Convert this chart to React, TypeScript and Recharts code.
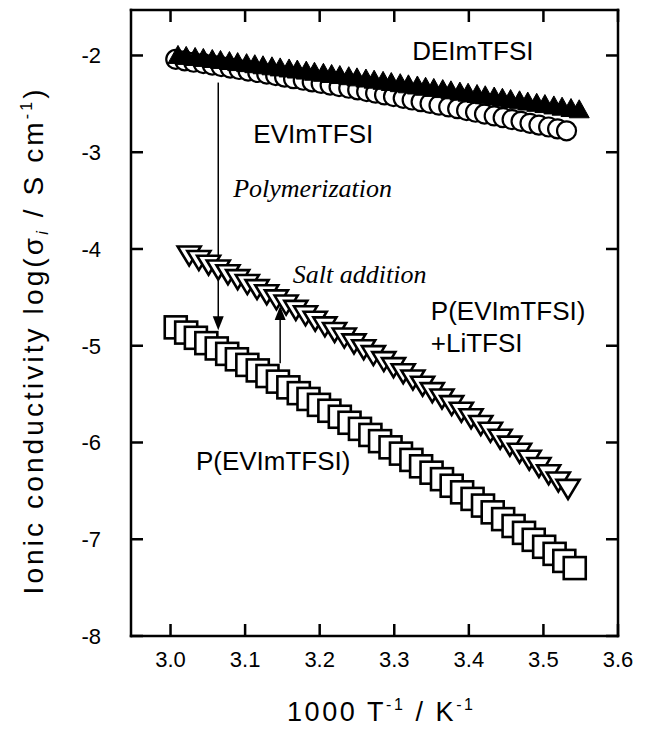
import React from "react";
import {
  ScatterChart,
  Scatter,
  XAxis,
  YAxis,
  ReferenceDot,
  ReferenceLine
} from "recharts";

// axis ticks
const xTicks = [3.0, 3.1, 3.2, 3.3, 3.4, 3.5, 3.6];
const yTicks = [-8, -7, -6, -5, -4, -3, -2];

// DEImTFSI (filled triangles)
const deimX = [3.010, 3.021, 3.033, 3.044, 3.056, 3.067, 3.079, 3.090, 3.102, 3.113, 3.124, 3.136, 3.147, 3.159, 3.170, 3.182, 3.193, 3.205, 3.216, 3.227, 3.239, 3.250, 3.262, 3.273, 3.285, 3.296, 3.308, 3.319, 3.331, 3.342, 3.353, 3.365, 3.376, 3.388, 3.399, 3.411, 3.422, 3.434, 3.445, 3.456, 3.468, 3.479, 3.491, 3.502, 3.514, 3.525, 3.537, 3.548];
const deimY = [-2.020, -2.030, -2.041, -2.051, -2.062, -2.072, -2.083, -2.094, -2.105, -2.116, -2.127, -2.138, -2.149, -2.160, -2.171, -2.182, -2.194, -2.205, -2.217, -2.228, -2.240, -2.252, -2.264, -2.276, -2.288, -2.300, -2.312, -2.324, -2.336, -2.349, -2.361, -2.373, -2.386, -2.399, -2.411, -2.424, -2.437, -2.450, -2.463, -2.476, -2.489, -2.502, -2.515, -2.528, -2.542, -2.555, -2.569, -2.582];

// EVImTFSI (open circles)
const evimX = [3.007, 3.019, 3.031, 3.044, 3.056, 3.068, 3.080, 3.092, 3.104, 3.117, 3.129, 3.141, 3.153, 3.165, 3.178, 3.190, 3.202, 3.214, 3.226, 3.239, 3.251, 3.263, 3.275, 3.287, 3.299, 3.312, 3.324, 3.336, 3.348, 3.360, 3.373, 3.385, 3.397, 3.409, 3.421, 3.434, 3.446, 3.458, 3.470, 3.482, 3.494, 3.507, 3.519, 3.531];
const evimY = [-2.040, -2.055, -2.070, -2.084, -2.099, -2.115, -2.130, -2.145, -2.161, -2.176, -2.192, -2.208, -2.224, -2.240, -2.256, -2.273, -2.289, -2.306, -2.322, -2.339, -2.356, -2.373, -2.390, -2.408, -2.425, -2.443, -2.460, -2.478, -2.496, -2.514, -2.532, -2.550, -2.569, -2.587, -2.606, -2.625, -2.643, -2.662, -2.681, -2.701, -2.720, -2.739, -2.759, -2.779];

// P(EVImTFSI) (open squares)
const polyX = [3.007, 3.021, 3.034, 3.048, 3.062, 3.076, 3.089, 3.103, 3.117, 3.130, 3.144, 3.158, 3.172, 3.185, 3.199, 3.213, 3.227, 3.240, 3.254, 3.268, 3.281, 3.295, 3.309, 3.323, 3.336, 3.350, 3.364, 3.377, 3.391, 3.405, 3.419, 3.432, 3.446, 3.460, 3.474, 3.487, 3.501, 3.515, 3.528, 3.542];
const polyY = [-4.810, -4.864, -4.918, -4.973, -5.028, -5.084, -5.140, -5.198, -5.255, -5.313, -5.371, -5.430, -5.490, -5.550, -5.611, -5.672, -5.734, -5.796, -5.859, -5.922, -5.986, -6.050, -6.115, -6.180, -6.246, -6.312, -6.379, -6.447, -6.515, -6.583, -6.652, -6.722, -6.792, -6.863, -6.934, -7.006, -7.078, -7.151, -7.224, -7.298];

// P(EVImTFSI)+LiTFSI (open down triangles)
const saltX = [3.025, 3.038, 3.051, 3.064, 3.077, 3.090, 3.103, 3.116, 3.129, 3.142, 3.155, 3.168, 3.181, 3.194, 3.207, 3.220, 3.233, 3.246, 3.259, 3.272, 3.286, 3.299, 3.312, 3.325, 3.338, 3.351, 3.364, 3.377, 3.390, 3.403, 3.416, 3.429, 3.442, 3.455, 3.468, 3.481, 3.494, 3.507, 3.520, 3.533];
const saltY = [-4.040, -4.087, -4.135, -4.184, -4.234, -4.284, -4.335, -4.387, -4.440, -4.493, -4.547, -4.602, -4.658, -4.714, -4.772, -4.830, -4.888, -4.948, -5.008, -5.069, -5.131, -5.194, -5.257, -5.321, -5.386, -5.452, -5.518, -5.586, -5.654, -5.722, -5.792, -5.862, -5.933, -6.005, -6.078, -6.151, -6.225, -6.300, -6.376, -6.452];

const toPoints = (xs: number[], ys: number[]) => xs.map((x, i) => ({ x, y: ys[i] }));

const SANS = "'Liberation Sans', Arial, Helvetica, sans-serif";
const SERIF = "'Liberation Serif', 'Times New Roman', serif";
const X_MIN = 2.947;
const X_MAX = 3.6;
const Y_MIN = -8;
const Y_MAX = -1.53;
const W = 659;
const H = 740;
// plot box in page pixels (follows from the margins and axis sizes below)
const LEFT = 131;
const TOP = 10;
const RIGHT = 618;
const BOTTOM = 636;
const TICK = 12;
const LW = 2.5;
const axisLine = { stroke: "#000", strokeWidth: 2 };

// tick positions for the frame, worked out once at load
const frameXs = xTicks.map((t) => LEFT + ((t - X_MIN) / (X_MAX - X_MIN)) * (RIGHT - LEFT));
const frameYs = yTicks.map((t) => BOTTOM - ((t - Y_MIN) / (Y_MAX - Y_MIN)) * (BOTTOM - TOP));

// frame sides and ticks as filled bars: [x, y, w, h]
const bars: number[][] = [
  [LEFT - LW / 2, TOP - LW / 2, RIGHT - LEFT + LW, LW],
  [LEFT - LW / 2, BOTTOM - LW / 2, RIGHT - LEFT + LW, LW],
  [LEFT - LW / 2, TOP - LW / 2, LW, BOTTOM - TOP + LW],
  [RIGHT - LW / 2, TOP - LW / 2, LW, BOTTOM - TOP + LW],
  ...frameXs.map((x) => [x - LW / 2, BOTTOM - TICK, LW, TICK]),
  ...frameXs.map((x) => [x - LW / 2, TOP, LW, TICK]),
  ...frameYs.map((y) => [LEFT, y - LW / 2, TICK, LW]),
  ...frameYs.map((y) => [RIGHT - TICK, y - LW / 2, TICK, LW])
];

const FilledTriangle = (p: any) => {
  const { cx, cy } = p;
  const s = 20;
  const h = 18;
  return (
    <path
      d={`M${cx},${cy - (h * 2) / 3}L${cx + s / 2},${cy + h / 3}L${cx - s / 2},${cy + h / 3}Z`}
      fill="#000"
      stroke="#000"
      strokeWidth={1}
    />
  );
};

const OpenCircle = (p: any) => (
  <circle cx={p.cx} cy={p.cy} r={9.5} fill="#fff" stroke="#000" strokeWidth={2.2} />
);

const OpenSquare = (p: any) => (
  <rect x={p.cx - 11} y={p.cy - 11} width={22} height={22} fill="#fff" stroke="#000" strokeWidth={2.6} />
);

const DownTriangle = (p: any) => {
  const { cx, cy } = p;
  const s = 23;
  const h = 19;
  return (
    <path
      d={`M${cx - s / 2},${cy - h / 3}L${cx + s / 2},${cy - h / 3}L${cx},${cy + (h * 2) / 3}Z`}
      fill="#fff"
      stroke="#000"
      strokeWidth={2.6}
    />
  );
};

const ArrowDown = (p: any) => (
  <path d={`M${p.cx},${p.cy}L${p.cx - 5.5},${p.cy - 14}L${p.cx + 5.5},${p.cy - 14}Z`} fill="#000" />
);
const ArrowUp = (p: any) => (
  <path d={`M${p.cx},${p.cy}L${p.cx - 5.5},${p.cy + 14}L${p.cx + 5.5},${p.cy + 14}Z`} fill="#000" />
);

const note = (text: string, italic = false) => (p: any) => (
  <text
    x={p.cx}
    y={p.cy}
    fontFamily={italic ? SERIF : SANS}
    fontStyle={italic ? "italic" : "normal"}
    fontSize={26}
    fill="#000"
  >
    {text}
  </text>
);

const BottomLabel = (p: any) => (
  <text x={p.x} y={667} textAnchor="middle" fontFamily={SANS} fontSize={22} fill="#000">
    {Number(p.payload.value).toFixed(1)}
  </text>
);
const LeftLabel = (p: any) => (
  <text x={101} y={p.y + 8} textAnchor="end" fontFamily={SANS} fontSize={22} fill="#000">
    {p.payload.value}
  </text>
);

const XTitle = () => (
  <text
    x={380}
    y={721}
    textAnchor="middle"
    fontFamily={SANS}
    fontSize={27}
    fill="#000"
    textLength={186}
    lengthAdjust="spacing"
  >
    1000 T
    <tspan fontSize={16} dy={-11}>-1</tspan>
    <tspan dy={11}> / K</tspan>
    <tspan fontSize={16} dy={-11}>-1</tspan>
  </text>
);

const YTitle = () => (
  <text
    x={0}
    y={0}
    transform="translate(43,342) rotate(-90)"
    textAnchor="middle"
    fontFamily={SANS}
    fontSize={28}
    fill="#000"
    textLength={505}
    lengthAdjust="spacing"
  >
    Ionic conductivity log(σ
    <tspan fontSize={16} fontStyle="italic" dy={5}>i</tspan>
    <tspan dy={-5}> / S cm</tspan>
    <tspan fontSize={16} dy={-11}>-1</tspan>
    <tspan dy={11}>)</tspan>
  </text>
);

// frame with inward ticks on all four sides, laid over the chart
const Frame = () => (
  <svg
    width={W}
    height={H}
    style={{ position: "absolute", left: 0, top: 0, zIndex: 10, pointerEvents: "none" }}
  >
    {bars.map(([x, y, w, h], i) => (
      <rect key={i} x={x} y={y} width={w} height={h} fill="#000" />
    ))}
  </svg>
);

export default function App() {
  return (
    <div style={{ position: "relative", width: W, height: H, margin: -8, background: "#fff" }}>
      <ScatterChart
        width={W}
        height={H}
        margin={{ top: TOP, right: W - RIGHT, bottom: 0, left: 0 }}
      >
        <XAxis
          type="number"
          dataKey="x"
          domain={[X_MIN, X_MAX]}
          ticks={xTicks}
          interval={0}
          height={H - BOTTOM}
          tickLine={false}
          axisLine={axisLine}
          tick={(p: any) => <BottomLabel {...p} />}
          label={() => <XTitle />}
        />
        <YAxis
          type="number"
          dataKey="y"
          domain={[Y_MIN, Y_MAX]}
          ticks={yTicks}
          interval={0}
          width={LEFT}
          tickLine={false}
          axisLine={axisLine}
          tick={(p: any) => <LeftLabel {...p} />}
          label={() => <YTitle />}
        />

        <Scatter data={toPoints(evimX, evimY)} shape={OpenCircle} isAnimationActive={false} />
        <Scatter data={toPoints(deimX, deimY)} shape={FilledTriangle} isAnimationActive={false} />
        <Scatter data={toPoints(polyX, polyY)} shape={OpenSquare} isAnimationActive={false} />
        <Scatter data={toPoints(saltX, saltY)} shape={DownTriangle} isAnimationActive={false} />

        <ReferenceLine
          segment={[{ x: 3.064, y: -2.28 }, { x: 3.064, y: -4.75 }]}
          stroke="#000"
          strokeWidth={1.5}
        />
        <ReferenceDot x={3.064} y={-4.84} r={0} shape={ArrowDown} />
        <ReferenceLine
          segment={[{ x: 3.147, y: -5.18 }, { x: 3.147, y: -4.68 }]}
          stroke="#000"
          strokeWidth={1.5}
        />
        <ReferenceDot x={3.147} y={-4.59} r={0} shape={ArrowUp} />

        <ReferenceDot x={3.324} y={-2.05} r={0} shape={note("DEImTFSI")} />
        <ReferenceDot x={3.111} y={-2.9} r={0} shape={note("EVImTFSI")} />
        <ReferenceDot x={3.084} y={-3.465} r={0} shape={note("Polymerization", true)} />
        <ReferenceDot x={3.164} y={-4.353} r={0} shape={note("Salt addition", true)} />
        <ReferenceDot x={3.349} y={-4.736} r={0} shape={note("P(EVImTFSI)")} />
        <ReferenceDot x={3.349} y={-5.066} r={0} shape={note("+LiTFSI")} />
        <ReferenceDot x={3.034} y={-6.285} r={0} shape={note("P(EVImTFSI)")} />
      </ScatterChart>
      <Frame />
    </div>
  );
}
